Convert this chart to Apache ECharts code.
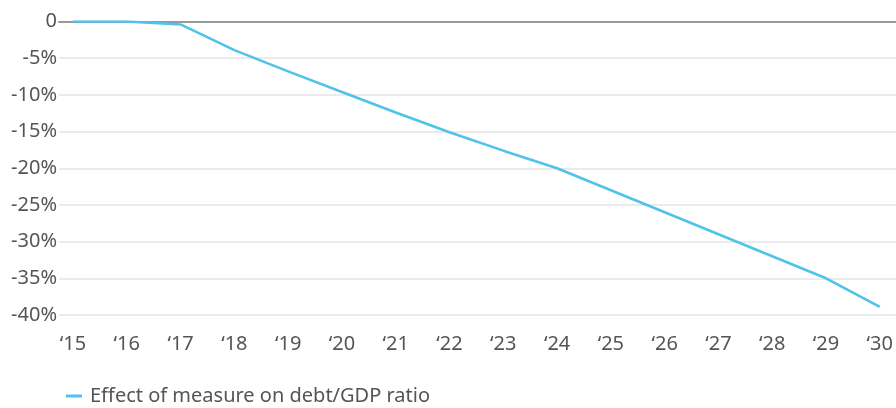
<!DOCTYPE html>
<html>
<head>
<meta charset="utf-8">
<script src="https://cdn.jsdelivr.net/npm/echarts@6/dist/echarts.min.js"></script>
<style>
  html, body { margin: 0; padding: 0; background: #fff; }
  #chart { width: 896px; height: 408px; }
</style>
</head>
<body>
<div id="chart"></div>
<script>
// Years on the horizontal axis
const years = ['\u201815', '\u201816', '\u201817', '\u201818', '\u201819', '\u201820', '\u201821', '\u201822',
               '\u201823', '\u201824', '\u201825', '\u201826', '\u201827', '\u201828', '\u201829', '\u201830'];
// Effect of measure on debt/GDP ratio, percentage points
const effect = [0, 0, -0.4, -3.9, -6.8, -9.6, -12.4, -15.1, -17.6, -20.0, -23.0, -26.0, -29.0, -32.0, -35.0, -38.9];
const seriesName = 'Effect of measure on debt/GDP ratio';
// Value axis ticks
const yMin = -40, yMax = 0, yStep = 5;

const textColor = '#555555';
const fontFamily = 'Noto Sans, sans-serif';
const fontSize = 20;
const plotTop = 21.5, plotBottom = 93;

const chart = echarts.init(document.getElementById('chart'), null, { renderer: 'canvas' });
chart.setOption({
  animation: false,
  backgroundColor: '#fff',
  textStyle: { fontFamily: fontFamily },
  grid: [
    // backdrop: value labels, gridlines and zero line across full width
    { left: 59, right: 0, top: plotTop, bottom: plotBottom, containLabel: false },
    // plotted line, inset from the gridline ends
    { left: 73, right: 16, top: plotTop, bottom: plotBottom, containLabel: false }
  ],
  xAxis: [
    {
      gridIndex: 0, type: 'category', data: years, boundaryGap: false,
      axisLine: { show: true, onZero: true, lineStyle: { color: '#999', width: 2 } },
      axisTick: { show: false }, axisLabel: { show: false }, splitLine: { show: false }
    },
    {
      gridIndex: 1, type: 'category', data: years, boundaryGap: false, position: 'bottom',
      axisLine: { show: false, onZero: false }, axisTick: { show: false },
      axisLabel: { color: textColor, fontSize: fontSize, margin: 19, interval: 0, fontFamily: fontFamily },
      splitLine: { show: false }
    }
  ],
  yAxis: [
    {
      gridIndex: 0, type: 'value', min: yMin, max: yMax, interval: yStep,
      axisLine: { show: false }, axisTick: { show: false },
      axisLabel: {
        color: textColor, fontSize: fontSize, margin: 2, fontFamily: fontFamily,
        formatter: v => (v === 0 ? '0' : v + '%')
      },
      splitLine: { show: true, lineStyle: { color: '#ebebeb', width: 2 } }
    },
    {
      gridIndex: 1, type: 'value', min: yMin, max: yMax, interval: yStep,
      axisLine: { show: false }, axisTick: { show: false },
      axisLabel: { show: false }, splitLine: { show: false }
    }
  ],
  legend: {
    left: 61, top: 381,
    icon: 'rect', itemWidth: 16, itemHeight: 3, itemGap: 10,
    textStyle: { color: textColor, fontSize: fontSize, fontFamily: fontFamily, padding: [0, 0, 0, 3] },
    data: [seriesName]
  },
  series: [
    { type: 'line', xAxisIndex: 0, yAxisIndex: 0, data: [], silent: true },
    {
      name: seriesName, type: 'line', xAxisIndex: 1, yAxisIndex: 1,
      data: effect, showSymbol: false, smooth: false,
      lineStyle: { color: '#4fc3ea', width: 2.6 },
      itemStyle: { color: '#4fc3ea' }
    }
  ]
});
</script>
</body>
</html>
